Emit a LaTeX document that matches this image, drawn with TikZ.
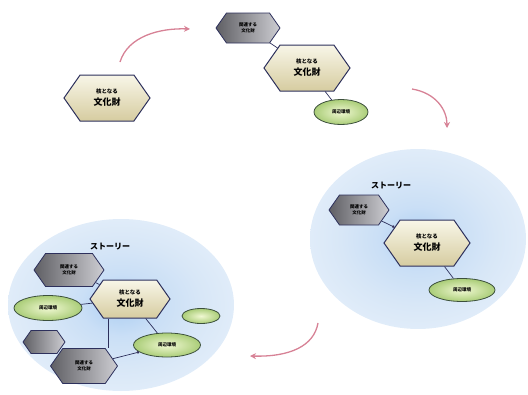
\documentclass[tikz,border=0pt]{standalone}
\usepackage{fontspec}
\newfontfamily\jp{Noto Sans CJK JP}
\usetikzlibrary{arrows.meta,shapes.symbols,shapes.geometric}
\definecolor{navy}{RGB}{45,48,92}
\definecolor{coreT}{RGB}{248,246,232}
\definecolor{coreB}{RGB}{214,204,160}
\definecolor{relL}{RGB}{95,95,100}
\definecolor{relR}{RGB}{205,205,210}
\definecolor{envI}{RGB}{240,248,210}
\definecolor{envO}{RGB}{170,205,120}
\definecolor{envD}{RGB}{60,80,60}
\definecolor{flowc}{RGB}{215,130,150}
\definecolor{dotc}{RGB}{200,60,80}
\definecolor{skyA}{RGB}{172,206,242}
\definecolor{skyB}{RGB}{202,223,246}
\definecolor{skyC}{RGB}{216,231,247}
\definecolor{skyD}{RGB}{224,236,249}
\pgfdeclareradialshading{storyglow}{\pgfpoint{0bp}{0bp}}{%
  color(0bp)=(skyA); color(9bp)=(skyB); color(18bp)=(skyC); color(25bp)=(skyD); color(50bp)=(skyD)}
\newcommand{\coretext}{{\fontsize{5.5}{7}\selectfont 核となる}\\{\fontsize{9}{11}\selectfont 文化財}}
\tikzset{
	hexa/.style={signal,signal to=west and east,signal pointer angle=110,inner sep=0pt,align=center},
	core/.style={hexa,draw=navy,line width=1pt,top color=coreT,bottom color=coreB,
		minimum width=86pt,minimum height=46pt,font=\jp\bfseries},
	rel/.style={hexa,draw=navy,line width=0.8pt,left color=relL,right color=relR,
		minimum width=64pt,minimum height=30pt,font=\jp\bfseries\fontsize{4.5}{5.5}\selectfont},
	env/.style={ellipse,draw=envD,line width=0.8pt,inner color=envI,outer color=envO,
		minimum width=62pt,minimum height=23pt,inner sep=0pt,font=\jp\bfseries\fontsize{4.5}{5.5}\selectfont},
	area/.style={ellipse,shading=storyglow,inner sep=0pt},
	story/.style={font=\jp\bfseries\fontsize{8}{9}\selectfont},
	link/.style={draw=navy,line width=0.7pt},
	dot/.style={-{Circle[length=2.5pt,fill=dotc]}},
	flow/.style={draw=flowc,line width=1.3pt,-{Stealth[length=6pt,width=6pt]}}
}
\begin{document}
\begin{tikzpicture}[x=1pt,y=-1pt]
	\useasboundingbox (0,0) rectangle (528,394);
	% stage 1
	\node[core] (c1) at (107,98) {\coretext};
	% stage 2
	\node[rel] (r2) at (248,28) {関連する\\文化財};
	\node[core] (c2) at (307,68) {\coretext};
	\node[env,minimum width=54pt,minimum height=25pt] (e2) at (341,112) {周辺環境};
	\draw[link] (r2) -- (c2);
	\draw[link] (c2) -- (e2);
	% stage 3
	\node[area,minimum width=216pt,minimum height=180pt] (s3) at (418,239) {};
	\node[story] (t3) at (391,186) {ストーリー};
	\node[rel,minimum width=60pt] (r3) at (359,210) {関連する\\文化財};
	\node[core] (c3) at (427,243) {\coretext};
	\node[env,minimum width=66pt] (e3) at (462,290) {周辺環境};
	\draw[link,dot] (r3) -- (c3);
	\draw[link] (c3) -- (e3);
	% stage 4
	\node[area,minimum width=226pt,minimum height=172pt] (s4) at (121,305) {};
	\node[story] (t4) at (110,247) {ストーリー};
	\node[rel,minimum width=70pt,minimum height=33pt] (r4a) at (69,270) {関連する\\文化財};
	\node[env,minimum width=68pt,minimum height=25pt] (e4a) at (48,308) {周辺環境};
	\node[core,minimum width=80pt,minimum height=38pt] (c4) at (130,299) {\coretext};
	\node[env,minimum width=38pt,minimum height=15pt] (e4c) at (201,316) {};
	\node[rel,minimum width=42pt,minimum height=23pt] (r4c) at (44,342) {};
	\node[rel,minimum width=67pt,minimum height=35pt] (r4b) at (84,366) {関連する\\文化財};
	\node[env,minimum width=67pt,minimum height=24pt] (e4b) at (167,345) {周辺環境};
	\draw[link] (r4a) -- (c4);
	\draw[link] (e4a) -- (c4);
	\draw[link] (c4.south) ++(-22,0) coordinate (c4b) -- (c4b |- r4b.north);
	\draw[link] (c4) -- (e4b);
	\draw[link,dot] (r4b) -- (e4b);
	% flow arrows
	\coordinate (f1s) at (120,62);
	\coordinate (f1e) at (190,29);
	\coordinate (f2s) at (412,89);
	\coordinate (f2e) at (447,128);
	\coordinate (f3s) at (318,323);
	\coordinate (f3e) at (250,356);
	\draw[flow] (f1s) .. controls (128,36) and (160,28) .. (f1e);
	\draw[flow] (f2s) .. controls (436,93) and (447,110) .. (f2e);
	\draw[flow] (f3s) .. controls (314,346) and (290,357) .. (f3e);
\end{tikzpicture}
\end{document}
